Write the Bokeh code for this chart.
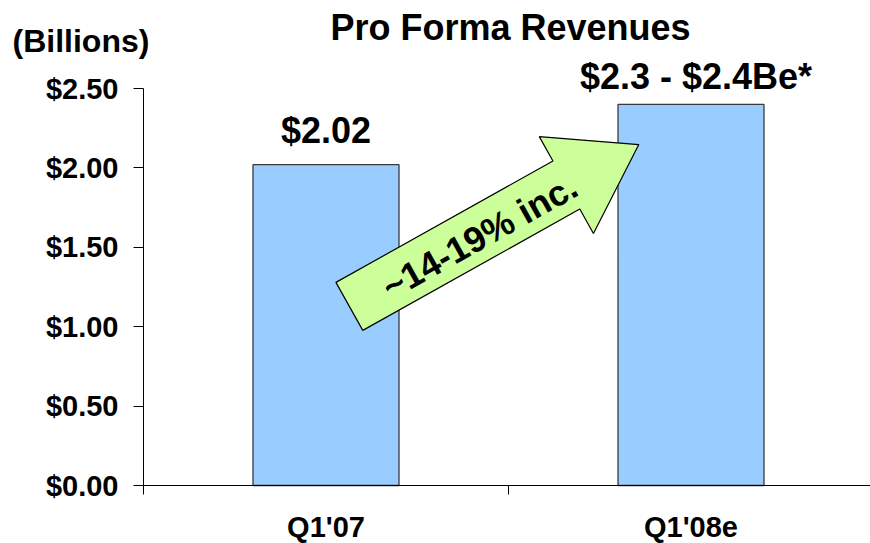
import math
from bokeh.plotting import figure
from bokeh.models import Range1d, FixedTicker, NumeralTickFormatter, Label, ColumnDataSource
from bokeh.embed import file_html
from bokeh.resources import INLINE

# ---- data ----
title_text = "Pro Forma Revenues"
unit_text = "(Billions)"
categories = ["Q1'07", "Q1'08e"]
revenues = [2.02, 2.40]
value_labels = ["$2.02", "$2.3 - $2.4Be*"]
y_ticks = [0.0, 0.5, 1.0, 1.5, 2.0, 2.5]
arrow_text = "~14-19% inc."
arrow_from = (0.564, 1.128)   # data coords (category units, billions)
arrow_to = (1.357, 2.147)

# ---- layout (pixels) ----
FONT = "Liberation Sans"
W, H = 870, 543
ORIGIN_X = 143       # pixel column of the category axis start (y axis)
ZERO_Y = 485         # pixel row of y = 0
PX_CAT = 365.0       # pixels per category
PX_UNIT = 158.8      # pixels per billion
BASE_FIX = 12        # correction for label baseline placement


def dx(px):  # pixel column -> data x
    return (px - ORIGIN_X) / PX_CAT


def dy(py):  # pixel row -> data y
    return (ZERO_Y - py) / PX_UNIT


x_centers = [i + 0.5 for i in range(len(categories))]

p = figure(width=W, height=H, output_backend="svg", toolbar_location=None,
           x_range=Range1d(dx(0), dx(W)), y_range=Range1d(dy(H), dy(0)),
           min_border_left=0, min_border_right=0, min_border_top=0, min_border_bottom=0,
           background_fill_color="white", border_fill_color="white")
p.title.visible = False
p.outline_line_color = None
p.grid.visible = False

# bars
src = ColumnDataSource(dict(x=x_centers, top=revenues, cat=categories))
p.vbar(x="x", top="top", width=0.4, bottom=0, source=src,
       fill_color="#99CCFF", line_color="#3A3A3A", line_width=1.3)

# x axis at y = 0
xa = p.xaxis[0]
xa.fixed_location = 0
xa.bounds = (0, len(categories))
xa.ticker = FixedTicker(ticks=x_centers, minor_ticks=list(range(len(categories) + 1)))
xa.major_label_overrides = {x: c for x, c in zip(x_centers, categories)}
xa.major_tick_line_color = None
xa.major_tick_out = 0
xa.major_tick_in = 0
xa.minor_tick_out = 9
xa.minor_tick_in = 0
xa.minor_tick_line_color = "black"
xa.axis_line_color = "black"
xa.major_label_standoff = 16
xa.major_label_text_font = FONT
xa.major_label_text_font_style = "bold"
xa.major_label_text_font_size = "29px"
xa.major_label_text_color = "black"

# y axis at x = 0
ya = p.yaxis[0]
ya.fixed_location = 0
ya.bounds = (0, y_ticks[-1])
ya.ticker = FixedTicker(ticks=y_ticks, minor_ticks=[])
ya.formatter = NumeralTickFormatter(format="$0.00")
ya.major_tick_out = 10
ya.major_tick_in = 0
ya.minor_tick_line_color = None
ya.axis_line_color = "black"
ya.major_tick_line_color = "black"
ya.major_label_standoff = 15
ya.major_label_text_font = FONT
ya.major_label_text_font_style = "bold"
ya.major_label_text_font_size = "29px"
ya.major_label_text_color = "black"

# title
p.add_layout(Label(x=len(categories) / 2, y=dy(39), x_offset=2, y_offset=BASE_FIX, text=title_text,
                   text_font=FONT, text_font_style="bold", text_font_size="36px",
                   text_align="center", text_baseline="alphabetic", text_color="black"))

# unit label
p.add_layout(Label(x=dx(12), y=dy(52), y_offset=BASE_FIX, text=unit_text,
                   text_font=FONT, text_font_style="bold", text_font_size="32px",
                   text_align="left", text_baseline="alphabetic", text_color="black"))

# value labels
offsets = [(0, 22), (5, 16)]
for xc, v, t, (ox, oy) in zip(x_centers, revenues, value_labels, offsets):
    p.add_layout(Label(x=xc, y=v, x_offset=ox, y_offset=oy + BASE_FIX, text=t,
                       text_font=FONT, text_font_style="bold", text_font_size="36px",
                       text_align="center", text_baseline="alphabetic", text_color="black"))

# arrow (computed in pixel space, converted back to data)
tx, ty = arrow_from[0] * PX_CAT, arrow_from[1] * PX_UNIT
hx, hy = arrow_to[0] * PX_CAT, arrow_to[1] * PX_UNIT
L = math.hypot(hx - tx, hy - ty)
ux, uy = (hx - tx) / L, (hy - ty) / L
nx, ny = -uy, ux
shaft_w, head_w, head_l = 55.0, 111.0, 83.0
bx, by = hx - ux * head_l, hy - uy * head_l
pts = [
    (tx + nx * shaft_w / 2, ty + ny * shaft_w / 2),
    (bx + nx * shaft_w / 2, by + ny * shaft_w / 2),
    (bx + nx * head_w / 2, by + ny * head_w / 2),
    (hx, hy),
    (bx - nx * head_w / 2, by - ny * head_w / 2),
    (bx - nx * shaft_w / 2, by - ny * shaft_w / 2),
    (tx - nx * shaft_w / 2, ty - ny * shaft_w / 2),
]
p.patch([q[0] / PX_CAT for q in pts], [q[1] / PX_UNIT for q in pts],
        fill_color="#CCFF99", line_color="black", line_width=1.2)

ang = math.atan2(hy - ty, hx - tx)
f = 0.45
p.add_layout(Label(x=(tx + (hx - tx) * f) / PX_CAT, y=(ty + (hy - ty) * f) / PX_UNIT,
                   y_offset=-3, text=arrow_text, angle=ang, angle_units="rad",
                   text_font=FONT, text_font_style="bold", text_font_size="36px",
                   text_align="center", text_baseline="middle", text_color="black"))

open("out.html", "w").write(file_html(p, INLINE))
